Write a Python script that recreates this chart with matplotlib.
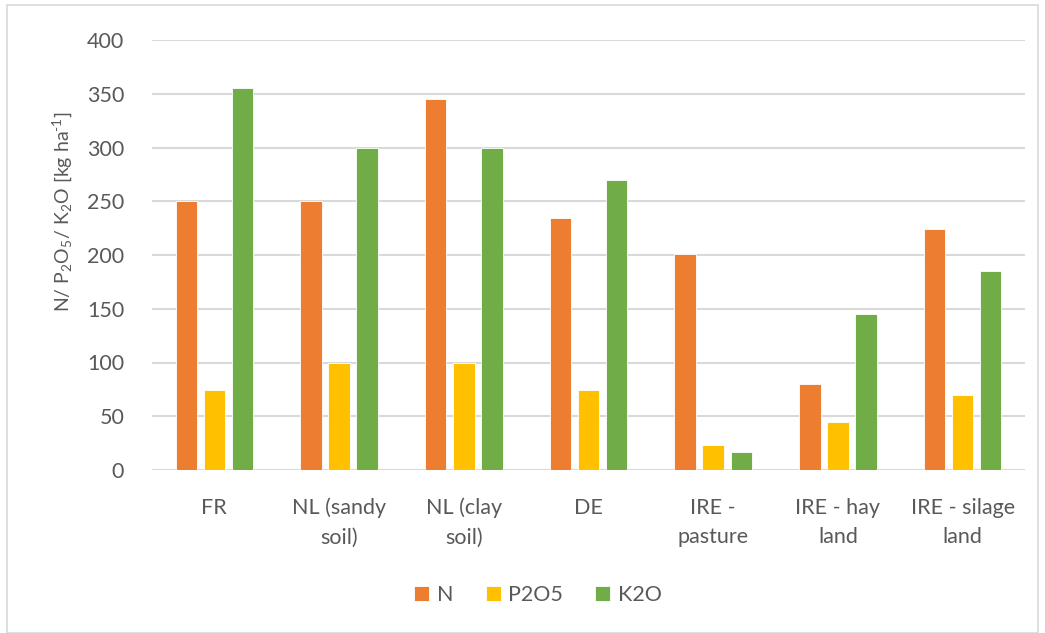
import matplotlib
matplotlib.use("Agg")
import matplotlib.pyplot as plt
import numpy as np
from matplotlib.patches import Rectangle

categories = ["FR", "NL (sandy\nsoil)", "NL (clay\nsoil)", "DE", "IRE -\npasture", "IRE - hay\nland", "IRE - silage\nland"]
n_vals = [250, 250, 345, 234, 201, 80, 224]
p2o5_vals = [74, 100, 100, 74, 23, 45, 70]
k2o_vals = [355, 300, 300, 270, 17, 145, 185]
series_names = ["N", "P2O5", "K2O"]
colors = ["#ED7D31", "#FFC000", "#70AD47"]
yticks = [0, 50, 100, 150, 200, 250, 300, 350, 400]

plt.rcParams['font.family'] = ['Lato', 'DejaVu Sans']
plt.rcParams['mathtext.fontset'] = 'custom'
plt.rcParams['mathtext.rm'] = 'Lato'
plt.rcParams['mathtext.it'] = 'Lato:italic'
fs = 15.5
W, H = 1045, 633
fig = plt.figure(figsize=(W/100, H/100), dpi=100)
ax = fig.add_axes([152/W, 1-470/H, (1025-152)/W, 430/H])

x = np.arange(len(categories))
width = 0.172
offset = 0.225
for i, (vals, name, c) in enumerate(zip([n_vals, p2o5_vals, k2o_vals], series_names, colors)):
    ax.bar(x + (i-1)*offset, vals, width, color=c, label=name, edgecolor="white", linewidth=0.6, zorder=3)

ax.set_xlim(-0.5, len(categories)-0.5)
ax.set_ylim(0, 400)
ax.set_yticks(yticks)
ax.yaxis.grid(True, color="#D9D9D9", linewidth=1.5, zorder=0)
ax.set_axisbelow(True)
for s in ax.spines.values():
    s.set_visible(False)
ax.tick_params(axis="both", length=0, labelsize=fs, labelcolor="#595959")
ax.tick_params(axis="y", pad=20)
ax.tick_params(axis="x", pad=20)
ax.set_xticks(x)
ax.set_xticklabels(categories, linespacing=1.6, va="top")

fig.text(62/W, 1-212/H, r"N/ P$_2$O$_5$/ K$_2$O [kg ha$^{\text{-}1}$]", rotation=90,
         ha="center", va="center", fontsize=14, color="#595959")

fig.legend(loc="center", bbox_to_anchor=(538/W, 1-595/H), ncol=3, frameon=False,
           fontsize=fs, labelcolor="#595959", handlelength=0.7, handleheight=0.7,
           handletextpad=0.35, columnspacing=1.5)

fig.patches.append(Rectangle((7/W, 0), (1038-7)/W, 1-5/H, transform=fig.transFigure,
                             fill=False, edgecolor="#D9D9D9", linewidth=1.2))

fig.savefig("out.png", dpi=100)
